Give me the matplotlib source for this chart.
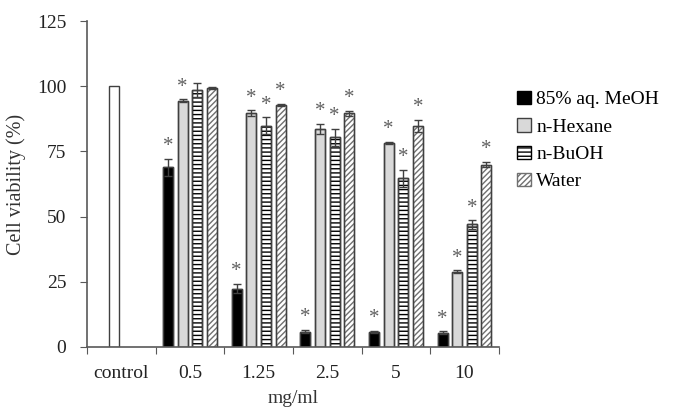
import matplotlib.pyplot as plt
import numpy as np

plt.rcParams['font.family'] = ['Liberation Serif', 'DejaVu Serif']
plt.rcParams['hatch.linewidth'] = 1.0

# ---------------- DATA ----------------
categories = ["control", "0.5", "1.25", "2.5", "5", "10"]
control_value = 100
series = ["85% aq. MeOH", "n-Hexane", "n-BuOH", "Water"]
meoh = [68.9, 22.4, 5.9, 5.7, 5.5]
meoh_err = [3.2, 1.7, 0.6, 0.5, 0.5]
hexane = [94.4, 89.7, 83.6, 78.2, 28.8]
hexane_err = [0.6, 1.1, 1.9, 0.5, 0.6]
buoh = [98.6, 84.9, 80.4, 64.7, 47.0]
buoh_err = [2.8, 3.2, 3.2, 3.3, 1.6]
water = [99.3, 92.8, 89.7, 84.9, 70.0]
water_err = [0.5, 0.5, 0.9, 2.3, 1.0]
# significance markers (True = *)
meoh_sig = [True, True, True, True, True]
hexane_sig = [True, True, True, True, True]
buoh_sig = [False, True, True, True, True]
water_sig = [False, True, True, True, True]

# ---------------- PLOT ----------------
fig = plt.figure(figsize=(6.75, 4.15), dpi=100)
ax = fig.add_axes([0.129, 0.164, 0.61, 0.785])

x = np.arange(1, len(categories))
step = 0.213
width = 0.145
edge = "#404040"

ax.bar(0 - 0.5 * step, control_value, width, color="white", edgecolor=edge, linewidth=1.0)

styles = [
    dict(color="black", edgecolor="black", hatch=None),
    dict(color="#d9d9d9", edgecolor=edge, hatch=None),
    dict(color="white", edgecolor="black", hatch="----"),
    dict(color="white", edgecolor="#707070", hatch="//////"),
]
vals = [meoh, hexane, buoh, water]
errs = [meoh_err, hexane_err, buoh_err, water_err]
sigs = [meoh_sig, hexane_sig, buoh_sig, water_sig]

handles = []
for i, (v, e, s, st) in enumerate(zip(vals, errs, sigs, styles)):
    pos = x + (i - 1.5) * step
    b = ax.bar(pos, v, width, color=st["color"], edgecolor=st["edgecolor"],
               hatch=st["hatch"], linewidth=1.0, label=series[i],
               yerr=e, error_kw=dict(ecolor="#404040", elinewidth=1.0, capsize=3, capthick=1.0))
    # outline for hatched bars
    ax.bar(pos, v, width, fill=False, edgecolor=edge, linewidth=1.0)
    handles.append(b)
    for px, pv, pe, ps in zip(pos, v, e, s):
        if ps:
            ax.annotate("*", (px, pv + pe), xytext=(0, 2), textcoords="offset points",
                        ha="center", va="bottom", fontsize=15, color="#606060")

ax.set_xlim(-0.5, 5.5)
ax.set_ylim(0, 125)
ax.set_yticks([0, 25, 50, 75, 100, 125])
ax.set_xticks(np.arange(-0.5, 6, 1))
ax.set_xticklabels([])
ax.set_xticks(np.arange(len(categories)), minor=True)
ax.set_xticklabels(categories, minor=True)
ax.tick_params(axis="x", which="minor", length=0, pad=13)
ax.tick_params(axis="x", which="major", length=5, color="#595959")
ax.tick_params(axis="y", length=5, color="#595959", pad=10)
ax.tick_params(which="both", labelsize=14, labelcolor="#222222")

for sp in ["top", "right"]:
    ax.spines[sp].set_visible(False)
for sp in ["left", "bottom"]:
    ax.spines[sp].set_color("#595959")
    ax.spines[sp].set_linewidth(1.2)

ax.set_ylabel("Cell viability (%)", fontsize=14.5, color="#333333", labelpad=8)
ax.set_xlabel("mg/ml", fontsize=14, color="#333333", labelpad=6)

ax.legend(handles=handles, loc="upper left", bbox_to_anchor=(1.025, 0.81),
          frameon=False, fontsize=14, handlelength=0.7, handleheight=0.7,
          handletextpad=0.3, labelspacing=0.5, borderaxespad=0)

fig.savefig("out.png", dpi=100)
